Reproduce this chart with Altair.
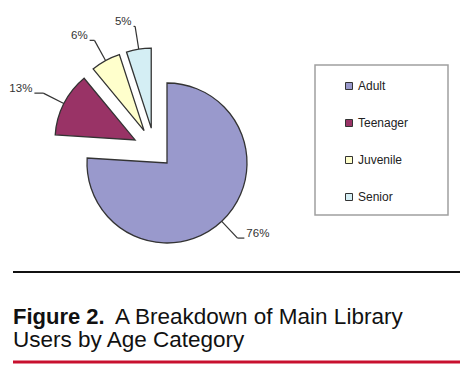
import math
import altair as alt
import pandas as pd

# ---- data ----
categories = ["Adult", "Teenager", "Juvenile", "Senior"]
values = [76, 13, 6, 5]
colors = ["#9999cc", "#993366", "#ffffcc", "#d4eef4"]

caption_bold = "Figure 2."
caption_line1 = "A Breakdown of Main Library"
caption_line2 = "Users by Age Category"

# ---- layout / style ----
W, H = 473, 376
CX, CY = 167, 163          # pie centre (px)
R = 80                     # pie radius
GROUP_EXPLODE = 18         # the small slices are pulled out together...
SLICE_EXPLODE = 22         # ...and each one on its own
LEADER_IN, LEADER_OUT, ELBOW = 80, 103, 10
STROKE = "#333333"
FONT = "Liberation Sans"

total = sum(values)
largest = max(values)
starts, cum = [], 0
for v in values:
    starts.append(cum)
    cum += v
ends = [s + v for s, v in zip(starts, values)]
detached = [v < largest for v in values]
g0 = min(s for s, d in zip(starts, detached) if d)
g1 = max(e for e, d in zip(ends, detached) if d)
gmid = (g0 + g1) / 2 / total * 2 * math.pi

rows = []
for c, v, s, e, d in zip(categories, values, starts, ends, detached):
    mid = (s + e) / 2 / total * 2 * math.pi
    k = 1 if d else 0
    cx = CX + k * (GROUP_EXPLODE * math.sin(gmid) + SLICE_EXPLODE * math.sin(mid))
    cy = CY - k * (GROUP_EXPLODE * math.cos(gmid) + SLICE_EXPLODE * math.cos(mid))
    x0, y0 = cx + LEADER_IN * math.sin(mid), cy - LEADER_IN * math.cos(mid)
    x1, y1 = cx + LEADER_OUT * math.sin(mid), cy - LEADER_OUT * math.cos(mid)
    side = 1 if math.sin(mid) >= 0 else -1
    x2 = x1 + ELBOW * math.sin(mid)
    rows.append(dict(category=c, value=v, start=s, end=e, cx=cx, cy=cy,
                     x0=x0, y0=y0, x1=x1, y1=y1, x2=x2,
                     tx=x2 + side * 2, ty=y1 - 4,
                     side="right" if side > 0 else "left",
                     label=f"{round(v / total * 100)}%"))
df = pd.DataFrame(rows)

base = alt.Chart(df)
one = pd.DataFrame({"k": [0]})

legend_box = alt.Chart(one).mark_rect(fill="white", stroke="#a0a0a0", strokeWidth=1.5).encode(
    x=alt.value(315), x2=alt.value(448), y=alt.value(65), y2=alt.value(215))

arcs = base.mark_arc(outerRadius=R, stroke=STROKE, strokeWidth=1.3).encode(
    x=alt.X("cx:Q", scale=None, axis=None),
    y=alt.Y("cy:Q", scale=None, axis=None),
    theta=alt.Theta("start:Q", scale=alt.Scale(domain=[0, total], range=[0, 2 * math.pi]), stack=None),
    theta2="end:Q",
    color=alt.Color("category:N", scale=alt.Scale(domain=categories, range=colors),
                    legend=alt.Legend(orient="none", legendX=343, legendY=80, title=None,
                                      symbolType="square", symbolSize=49,
                                      symbolStrokeColor=STROKE, symbolStrokeWidth=1,
                                      labelFont=FONT, labelFontSize=12, labelColor="#222222",
                                      labelOffset=3, rowPadding=25, padding=0)),
)

lead1 = base.mark_rule(color=STROKE, strokeWidth=1.2).encode(
    x=alt.X("x0:Q", scale=None, axis=None), y=alt.Y("y0:Q", scale=None, axis=None),
    x2="x1:Q", y2="y1:Q")
lead2 = base.mark_rule(color=STROKE, strokeWidth=1.2).encode(
    x=alt.X("x1:Q", scale=None, axis=None), y=alt.Y("y1:Q", scale=None, axis=None),
    x2="x2:Q", y2="y1:Q")

def labels(side, align):
    return base.transform_filter(alt.datum.side == side).mark_text(
        align=align, baseline="middle", font=FONT, fontSize=11.5, color="#333333").encode(
        x=alt.X("tx:Q", scale=None, axis=None), y=alt.Y("ty:Q", scale=None, axis=None),
        text="label:N")

rule_black = alt.Chart(one).mark_rule(color="#111111", strokeWidth=2).encode(
    x=alt.value(13), x2=alt.value(460), y=alt.value(272))
rule_red = alt.Chart(one).mark_rule(color="#c8102e", strokeWidth=3).encode(
    x=alt.value(13), x2=alt.value(460), y=alt.value(362))

cap_b = alt.Chart(one).mark_text(align="left", baseline="alphabetic", font=FONT, fontSize=22,
                                 fontWeight="bold", color="#111111", text=caption_bold).encode(
    x=alt.value(13), y=alt.value(324))
cap_1 = alt.Chart(one).mark_text(align="left", baseline="alphabetic", font=FONT, fontSize=22.5,
                                 color="#111111", text=caption_line1).encode(
    x=alt.value(115), y=alt.value(324))
cap_2 = alt.Chart(one).mark_text(align="left", baseline="alphabetic", font=FONT, fontSize=22.5,
                                 color="#111111", text=caption_line2).encode(
    x=alt.value(13), y=alt.value(347))

chart = alt.layer(legend_box, arcs, lead1, lead2, labels("left", "right"), labels("right", "left"),
                  rule_black, rule_red, cap_b, cap_1, cap_2).properties(
    width=W, height=H, padding=0, autosize=alt.AutoSizeParams(type="none"),
    background="white",
).configure_view(strokeWidth=0)

chart.save("out.html", embed_options={"renderer": "svg", "actions": False})
